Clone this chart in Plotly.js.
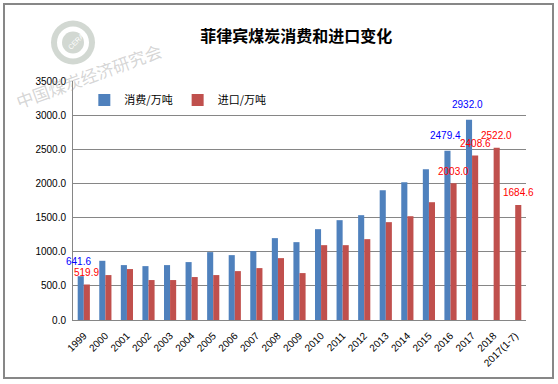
<!DOCTYPE html>
<html>
<head>
<meta charset="utf-8">
<script src="https://cdn.plot.ly/plotly-3.0.1.min.js"></script>
<style>
  html, body { margin: 0; padding: 0; background: #fff; }
  #chart { position: absolute; left: 0; top: 0; width: 558px; height: 384px; }
  #frame { position: absolute; left: 3px; top: 3px; width: 551px; height: 376px;
           box-sizing: border-box; border: 2px solid #878787; pointer-events: none; }
</style>
</head>
<body>
<div id="chart"></div>
<div id="frame"></div>
<script>
const categories = ['1999','2000','2001','2002','2003','2004','2005','2006','2007','2008',
  '2009','2010','2011','2012','2013','2014','2015','2016','2017','2018','2017(1-7)'];
const consumption = [641.6, 867, 804, 789, 804, 848, 994, 950, 1009, 1199,
  1140, 1330, 1462, 1535, 1900, 2018, 2208, 2479.4, 2932.0, null, null];
const imports = [519.9, 658, 746, 585, 585, 629, 658, 716, 760, 906,
  687, 1096, 1096, 1184, 1433, 1520, 1725, 2003.0, 2408.6, 2522.0, 1684.6];
const seriesNames = ['消费/万吨', '进口/万吨'];
const labelledConsumption = [0, 17, 18];
const labelledImports = [0, 17, 18, 19, 20];
const yTicks = [0, 500, 1000, 1500, 2000, 2500, 3000, 3500];
const titleText = '菲律宾煤炭消费和进口变化';
const watermarkText = '中国煤炭经济研究会';

const traces = [
  { type: 'bar', name: seriesNames[0], x: categories, y: consumption,
    marker: { color: '#4F81BD' }, hoverinfo: 'none' },
  { type: 'bar', name: seriesNames[1], x: categories, y: imports,
    marker: { color: '#C0504D' }, hoverinfo: 'none' }
];

const labelFont = 'Liberation Sans, Arial, sans-serif';
const annotations = [];
labelledConsumption.forEach(i => annotations.push({
  x: i, y: consumption[i], xref: 'x', yref: 'y',
  text: consumption[i].toFixed(1), showarrow: false,
  xshift: -5, yshift: 15, yanchor: 'middle', xanchor: 'center',
  font: { family: labelFont, size: 10, color: '#0000FF' }
}));
labelledImports.forEach(i => annotations.push({
  x: i, y: imports[i], xref: 'x', yref: 'y',
  text: imports[i].toFixed(1), showarrow: false,
  xshift: 3, yshift: 12, yanchor: 'middle', xanchor: 'center',
  font: { family: labelFont, size: 10, color: '#FF0000' }
}));
// watermark text
annotations.push({
  xref: 'paper', yref: 'paper', x: 0.035, y: 1.025,
  xanchor: 'center', yanchor: 'middle',
  text: watermarkText, showarrow: false, textangle: -20,
  font: { family: 'Noto Sans CJK SC, serif', size: 17, color: 'rgba(150,150,150,0.4)' }
});
annotations.push({
  xref: 'paper', yref: 'paper', x: 0.006, y: 1.167,
  xanchor: 'center', yanchor: 'middle',
  text: 'CERA', showarrow: false, textangle: -45,
  font: { family: labelFont, size: 7, color: '#ffffff' }
});

// logo circles (paper coords: x px = 73 + 453*x, y px = 320 - 239.4*y)
function circ(cxp, cyp, r, color) {
  return { type: 'circle', xref: 'paper', yref: 'paper', layer: 'below',
    x0: (cxp - r - 73) / 453, x1: (cxp + r - 73) / 453,
    y0: (320 - (cyp + r)) / 239.4, y1: (320 - (cyp - r)) / 239.4,
    fillcolor: color, line: { width: 0 } };
}
const shapes = [
  circ(73, 42, 22, '#d2d8d2'),
  circ(73, 42, 16, '#ffffff'),
  circ(73, 42, 11, '#d2d8d2')
];

const layout = {
  width: 558, height: 384,
  margin: { l: 73, r: 32, t: 81, b: 64, pad: 0 },
  paper_bgcolor: '#ffffff', plot_bgcolor: '#ffffff',
  barmode: 'group', bargap: 0.435, bargroupgap: 0,
  showlegend: true,
  legend: { orientation: 'h', x: 0.025, y: 0.92, xanchor: 'left', yanchor: 'middle',
    bgcolor: 'rgba(0,0,0,0)', itemwidth: 30,
    font: { family: 'Noto Sans CJK SC, sans-serif', size: 11, color: '#000' } },
  title: { text: '<b>' + titleText + '</b>', x: 0.531, xanchor: 'center', xref: 'container',
    y: 0.904, yanchor: 'middle', yref: 'container',
    font: { family: 'Noto Sans CJK SC, sans-serif', size: 16, color: '#000' } },
  xaxis: {
    type: 'category', range: [-0.5, categories.length - 0.5], autorange: false,
    tickangle: -45, showgrid: false,
    showline: true, linecolor: '#868686', linewidth: 1,
    ticks: '', ticklabelstandoff: 5,
    tickfont: { family: labelFont, size: 10, color: '#000' },
    fixedrange: true
  },
  yaxis: {
    range: [0, 3500], autorange: false, tickvals: yTicks, tickformat: '.1f',
    showgrid: true, gridcolor: '#868686', gridwidth: 1,
    showline: true, linecolor: '#868686', linewidth: 1, zeroline: false,
    ticks: '', ticklabelstandoff: 4,
    tickfont: { family: labelFont, size: 10, color: '#000' },
    fixedrange: true
  },
  annotations: annotations,
  shapes: shapes
};

Plotly.newPlot('chart', traces, layout, { displayModeBar: false, staticPlot: true });
</script>
</body>
</html>
